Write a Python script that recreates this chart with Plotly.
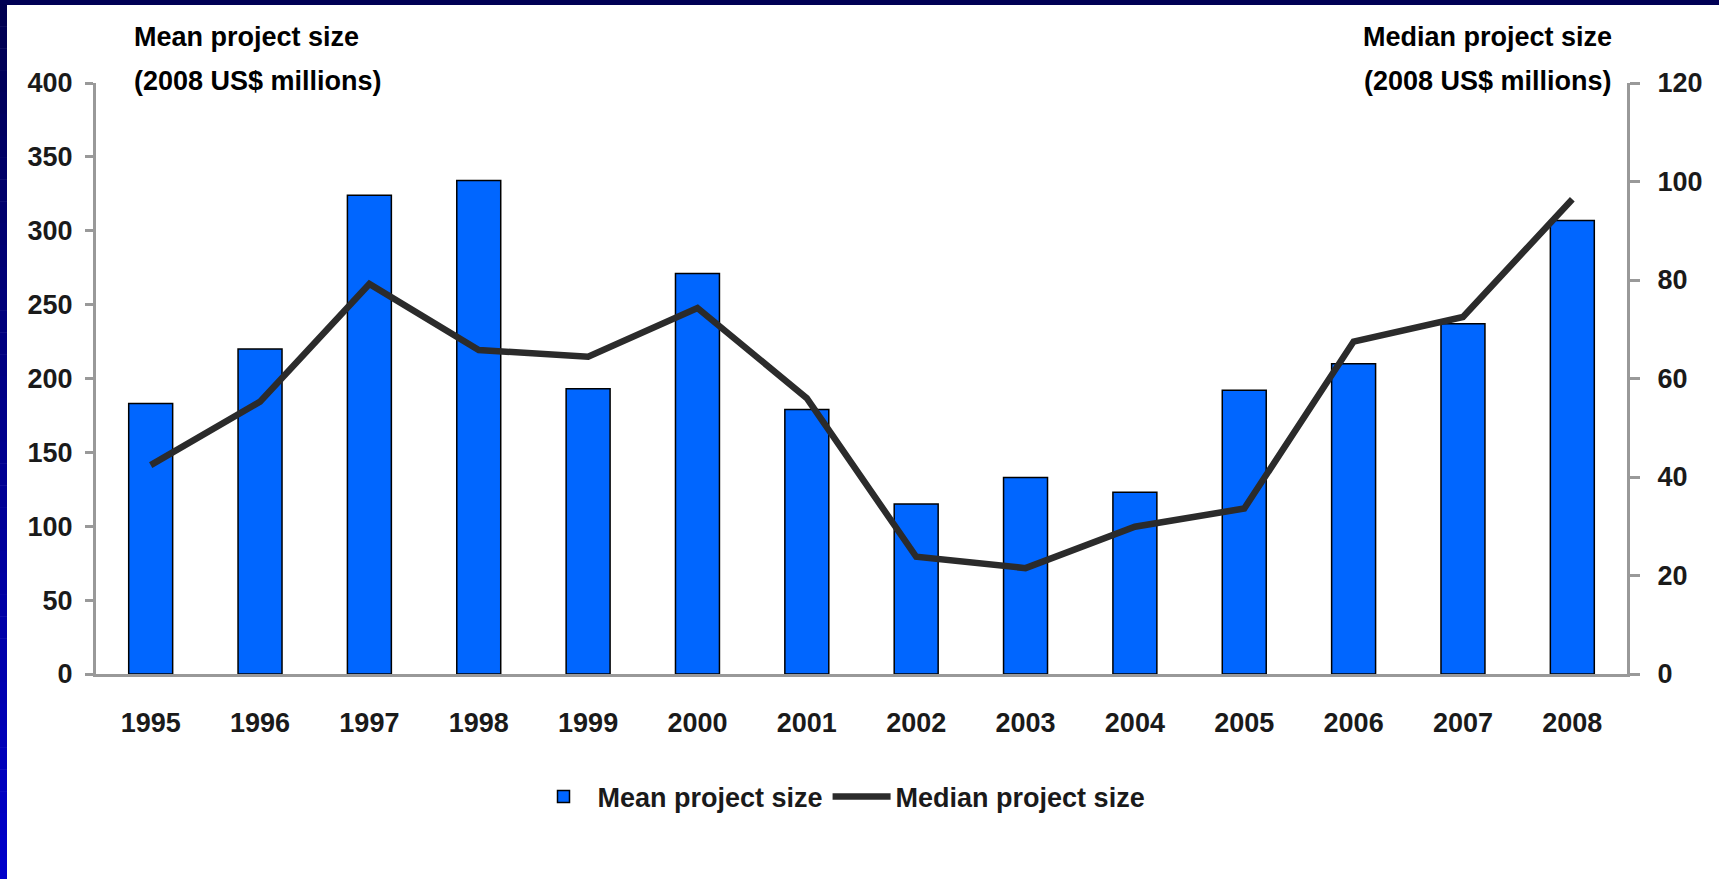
import plotly.graph_objects as go

years = ["1995", "1996", "1997", "1998", "1999", "2000", "2001",
         "2002", "2003", "2004", "2005", "2006", "2007", "2008"]
mean_size = [183, 220, 324, 334, 193, 271, 179, 115, 133, 123, 192, 210, 237, 307]
median_size = [42.4, 55.3, 79.2, 65.8, 64.4, 74.3, 56.0, 23.8, 21.5, 29.9, 33.6, 67.5, 72.5, 96.4]
left_ticks = [0, 50, 100, 150, 200, 250, 300, 350, 400]
right_ticks = [0, 20, 40, 60, 80, 100, 120]

W, H = 1719, 879
L, R, T, B = 96, 1627, 83, 674  # plot area in pixels
FONT = "Liberation Sans, Arial, sans-serif"
TXT = "#1a1a1a"
AX = "#999999"


def px_x(px):
    return (px - L) / (R - L)


def px_y(py):
    return (B - py) / (B - T)


fig = go.Figure()
fig.add_trace(go.Bar(
    x=years, y=mean_size, name="Mean project size",
    marker=dict(color="#0066FF", line=dict(color="#000000", width=1.5)),
    yaxis="y",
))
fig.add_trace(go.Scatter(
    x=years, y=median_size, name="Median project size", mode="lines",
    line=dict(color="#2b2b2b", width=6.5), yaxis="y2",
))

shapes = []
# top dark strip
shapes.append(dict(type="rect", xref="paper", yref="paper",
                   x0=px_x(0), x1=px_x(W), y0=px_y(5), y1=px_y(0),
                   fillcolor="#000055", line=dict(width=0), layer="above"))
# left gradient strip
N = 40
for i in range(N):
    y0p = 5 + (H - 5) * i / N
    y1p = 5 + (H - 5) * (i + 1) / N
    t = (i + 0.5) / N
    b = int(80 + (204 - 80) * t)
    shapes.append(dict(type="rect", xref="paper", yref="paper",
                       x0=px_x(0), x1=px_x(7), y0=px_y(y1p), y1=px_y(y0p - 0.5),
                       fillcolor=f"rgb(0,0,{b})", line=dict(width=0), layer="above"))

TFONT = dict(family=FONT, size=27, color="#000000", weight="bold")
annotations = [
    dict(text="Mean project size", x=px_x(132), y=px_y(37), xref="paper", yref="paper",
         xanchor="left", yanchor="middle", showarrow=False, font=TFONT),
    dict(text="(2008 US$ millions)", x=px_x(132), y=px_y(81), xref="paper", yref="paper",
         xanchor="left", yanchor="middle", showarrow=False, font=TFONT),
    dict(text="Median project size", x=px_x(1614), y=px_y(37), xref="paper", yref="paper",
         xanchor="right", yanchor="middle", showarrow=False, font=TFONT),
    dict(text="(2008 US$ millions)", x=px_x(1614), y=px_y(81), xref="paper", yref="paper",
         xanchor="right", yanchor="middle", showarrow=False, font=TFONT),
]

TICKF = dict(family=FONT, size=27, color=TXT, weight="bold")

fig.update_layout(
    width=W, height=H,
    margin=dict(l=L, r=W - R, t=T, b=H - B, pad=0),
    paper_bgcolor="white", plot_bgcolor="white",
    font=dict(family=FONT, size=27, color=TXT),
    bargap=0.598,
    showlegend=True,
    legend=dict(orientation="h", x=px_x(840), y=px_y(797), xanchor="center", yanchor="middle",
                font=dict(family=FONT, size=27, color=TXT, weight="bold"), itemwidth=58,
                traceorder="normal", bgcolor="rgba(0,0,0,0)"),
    xaxis=dict(type="category", categoryorder="array", categoryarray=years,
               showline=True, linecolor=AX, linewidth=3, ticks="", showgrid=False,
               tickfont=TICKF, ticklabelstandoff=23, zeroline=False),
    yaxis=dict(range=[0, 400], tickvals=left_ticks, showline=True, linecolor=AX, linewidth=3,
               ticks="outside", ticklen=8, tickwidth=3, tickcolor=AX, showgrid=False,
               zeroline=False, tickfont=TICKF, ticklabelstandoff=7),
    yaxis2=dict(range=[0, 120], tickvals=right_ticks, overlaying="y", side="right",
                showline=True, linecolor=AX, linewidth=3, ticks="outside", ticklen=10,
                tickwidth=3, tickcolor=AX, showgrid=False, zeroline=False,
                tickfont=TICKF, ticklabelstandoff=12),
    shapes=shapes,
    annotations=annotations,
)

fig.write_html("out.html", config={"displayModeBar": False},
               post_script="document.body.style.margin='0';document.body.style.overflow='hidden';")
